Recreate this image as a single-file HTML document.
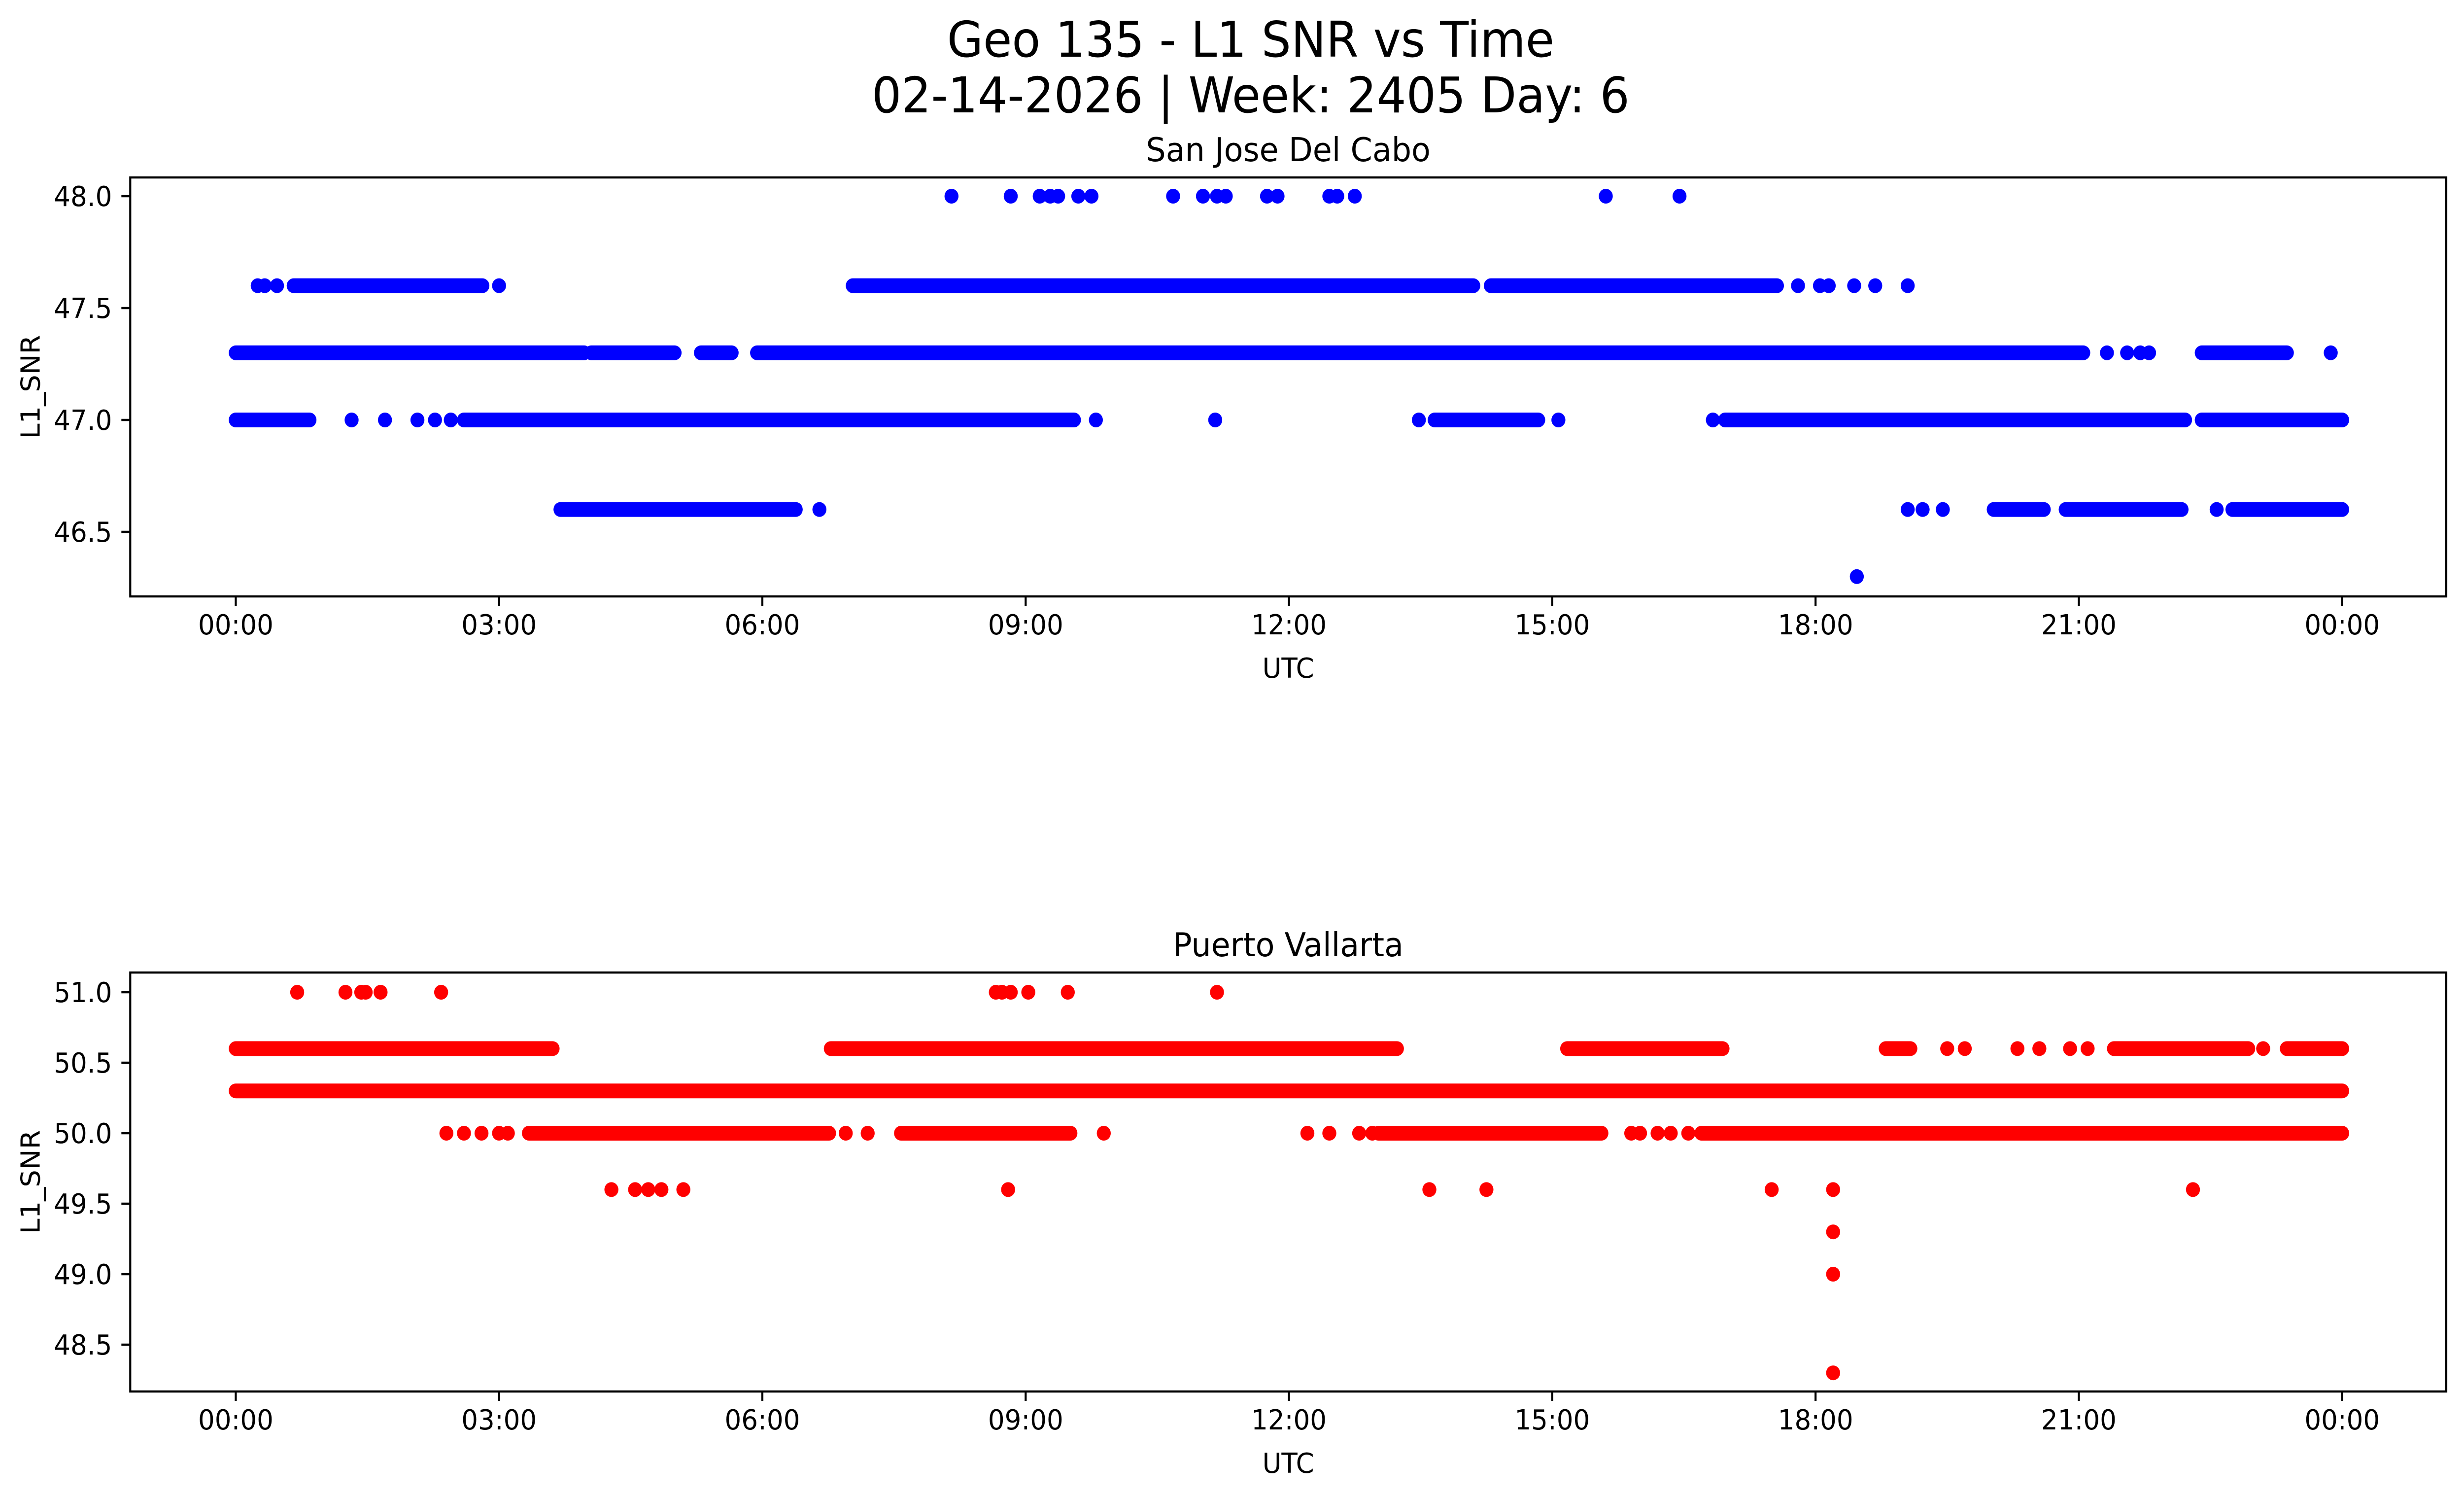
<!DOCTYPE html>
<html><head><meta charset="utf-8">
<style>
html,body{margin:0;padding:0;background:#fff;overflow:hidden;width:100%;height:100%;}
svg{display:block;position:absolute;left:0;top:0;width:100vw;height:100vh;font-family:"DejaVu Sans","Liberation Sans",sans-serif;}
</style></head>
<body>
<svg id="fig" viewBox="0 0 5278 3033" preserveAspectRatio="none" xmlns="http://www.w3.org/2000/svg">
<rect x="0" y="0" width="5278" height="3033" fill="#fff"/>
<text x="2679" y="115" font-size="100" text-anchor="middle">Geo 135 - L1 SNR vs Time</text>
<text x="2679" y="228" font-size="100" text-anchor="middle">02-14-2026 | Week: 2405 Day: 6</text>
<g id="top"></g>
<g id="bot"></g>
</svg>
<script>
// X tick labels (hours)
const xTickHours = [0,3,6,9,12,15,18,21,24];
const xTickLabels = ["00:00","03:00","06:00","09:00","12:00","15:00","18:00","21:00","00:00"];

// San Jose Del Cabo (blue): value levels, dense runs [start,end] hours, isolated points (hours)
const sjLevels = [48.0, 47.6, 47.3, 47.0, 46.6, 46.3];
const sjRuns = [
  [],
  [[0.66,2.81],[7.03,14.1],[14.3,17.56]],
  [[0,3.97],[4.05,5.0],[5.3,5.65],[5.94,21.05],[22.4,23.37]],
  [[0,0.84],[2.6,9.55],[13.66,14.84],[16.97,22.21],[22.4,24]],
  [[3.7,6.38],[20.03,20.6],[20.85,22.17],[22.75,24]],
  []
];
const sjPoints = [
  [8.155,8.83,9.16,9.28,9.37,9.6,9.75,10.68,11.02,11.18,11.28,11.75,11.87,12.46,12.55,12.75,15.61,16.45],
  [0.25,0.33,0.47,3.0,17.8,18.05,18.15,18.44,18.68,19.05],
  [21.32,21.55,21.7,21.8,23.87],
  [1.32,1.7,2.07,2.27,2.45,9.8,11.16,13.48,15.07,16.83],
  [6.65,19.05,19.22,19.45,22.57],
  [18.47]
];
const sjTicks = [46.5,47.0,47.5,48.0];

// Puerto Vallarta (red)
const pvLevels = [51.0, 50.6, 50.3, 50.0, 49.6, 49.3, 49.0, 48.3];
const pvRuns = [
  [],
  [[0,3.61],[6.78,13.23],[15.17,16.94],[18.8,19.08],[21.4,22.93],[23.37,24]],
  [[0,24]],
  [[3.34,6.76],[7.58,9.51],[13.02,15.56],[16.7,24]],
  [],[],[],[]
];
const pvPoints = [
  [0.7,1.25,1.43,1.48,1.65,2.34,8.66,8.73,8.83,9.03,9.48,11.18],
  [19.5,19.7,20.3,20.55,20.9,21.1,23.1],
  [],
  [2.4,2.6,2.8,3.0,3.1,6.95,7.2,9.89,12.21,12.46,12.8,12.95,15.9,16.0,16.2,16.35,16.55],
  [4.28,4.55,4.7,4.85,5.1,8.8,13.6,14.25,17.5,18.2,22.3],
  [18.2],[18.2],[18.2]
];
const pvTicks = [48.5,49.0,49.5,50.0,50.5,51.0];

const NS = "http://www.w3.org/2000/svg";
function mk(tag, attrs, parent){ const e=document.createElementNS(NS,tag); for(const k in attrs) e.setAttribute(k,attrs[k]); parent.appendChild(e); return e; }

function panel(g, cfg){
  const L=279, R=5240, T=cfg.top, B=cfg.bottom;
  const x = h => 505 + h*188;
  const y = v => cfg.y0 + (cfg.v0 - v)*cfg.k;
  const t = mk('text',{x:(L+R)/2,y:cfg.titleY,'font-size':67,'text-anchor':'middle'},g);
  
  
  t.textContent = cfg.title;
  const mg = mk('g',{},g);
  
  
  cfg.levels.forEach((lv,i)=>{
    cfg.runs[i].forEach(r=>{
      const ln = mk('line',{x1:x(r[0]),x2:x(r[1]),y1:y(lv),y2:y(lv),stroke:cfg.color,'stroke-width':30,'stroke-linecap':'round'},mg);
      
      
    });
    cfg.points[i].forEach(h=>{
      const c = mk('circle',{cx:x(h),cy:y(lv),r:15,fill:cfg.color},mg);
      
      
    });
  });
  const sp = mk('rect',{x:L,y:T,width:R-L,height:B-T,fill:'none',stroke:'#000','stroke-width':4.4},g);
  
  
  xTickHours.forEach((h,i)=>{
    mk('line',{x1:x(h),x2:x(h),y1:B,y2:B+19,stroke:'#000','stroke-width':4.4},g);
    const tl = mk('text',{x:x(h),y:B+77,'font-size':56,'text-anchor':'middle'},g);
    
    
    tl.textContent = xTickLabels[i];
  });
  cfg.ticks.forEach(v=>{
    mk('line',{x1:L-19,x2:L,y1:y(v),y2:y(v),stroke:'#000','stroke-width':4.4},g);
    const tl = mk('text',{x:L-39,y:y(v)+20,'font-size':56,'text-anchor':'end'},g);
    
    
    tl.textContent = v.toFixed(1);
  });
  const xl = mk('text',{x:(L+R)/2,y:B+165,'font-size':56,'text-anchor':'middle'},g);
  
  
  xl.textContent='UTC';
  const cy=(T+B)/2;
  const yl = mk('text',{x:85,y:cy,'font-size':56,'text-anchor':'middle',transform:`rotate(-90 85 ${cy})`},g);
  
  
  yl.textContent='L1_SNR';
}

panel(document.getElementById('top'),{title:'San Jose Del Cabo',titleY:327,top:360,bottom:1210,y0:398,v0:48.0,k:454,color:'#0000ff',
  levels:sjLevels,runs:sjRuns,points:sjPoints,ticks:sjTicks});
panel(document.getElementById('bot'),{title:'Puerto Vallarta',titleY:1940,top:1973,bottom:2823,y0:2013,v0:51.0,k:286,color:'#ff0000',
  levels:pvLevels,runs:pvRuns,points:pvPoints,ticks:pvTicks});
</script>
</body></html>
